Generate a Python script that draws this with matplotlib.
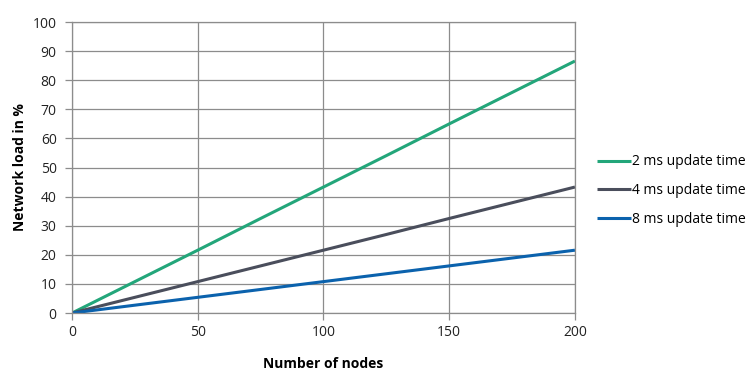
import matplotlib
matplotlib.use("Agg")
from matplotlib import pyplot as plt

# nodes and network load (%)
nodes = [0, 25, 50, 75, 100, 125, 150, 175, 200]
load_2ms = [0, 10.8, 21.6, 32.5, 43.3, 54.1, 65.0, 75.8, 86.6]
load_4ms = [0, 5.4, 10.8, 16.2, 21.6, 27.0, 32.5, 37.9, 43.3]
load_8ms = [0, 2.7, 5.4, 8.1, 10.8, 13.5, 16.2, 18.9, 21.6]
labels = ["2 ms update time", "4 ms update time", "8 ms update time"]
colors = ["#23a67a", "#4a4e5c", "#0b62ad"]

plt.rcParams['font.family'] = ['Open Sans', 'DejaVu Sans']

fig = plt.figure(figsize=(7.54, 3.74), dpi=100)
ax = fig.add_axes([0.0955, 0.163, 0.667, 0.778])

for y, lab, c in zip([load_2ms, load_4ms, load_8ms], labels, colors):
    ax.plot(nodes, y, color=c, lw=2.2, label=lab, solid_capstyle='butt')

ax.set_xlim(0, 200)
ax.set_ylim(0, 100)
ax.set_xticks(range(0, 201, 50))
ax.set_yticks(range(0, 101, 10))
ax.grid(True, color="#8c8c8c", lw=0.9)
ax.set_axisbelow(True)
for s in ax.spines.values():
    s.set_color("#8c8c8c")
    s.set_linewidth(0.9)
ax.tick_params(colors="#8c8c8c", labelcolor="#222222", labelsize=10, length=5, width=0.9)
ax.tick_params(axis='y', pad=6)

ax.set_xlabel("Number of nodes", fontweight='bold', fontsize=10, labelpad=12)
ax.set_ylabel("Network load in %", fontweight='bold', fontsize=10, labelpad=4)

ax.legend(loc='center left', bbox_to_anchor=(1.02, 0.42), frameon=False,
          fontsize=10, handlelength=2.4, handletextpad=0.1, labelspacing=1.0)

fig.savefig("out.png", dpi=100)
